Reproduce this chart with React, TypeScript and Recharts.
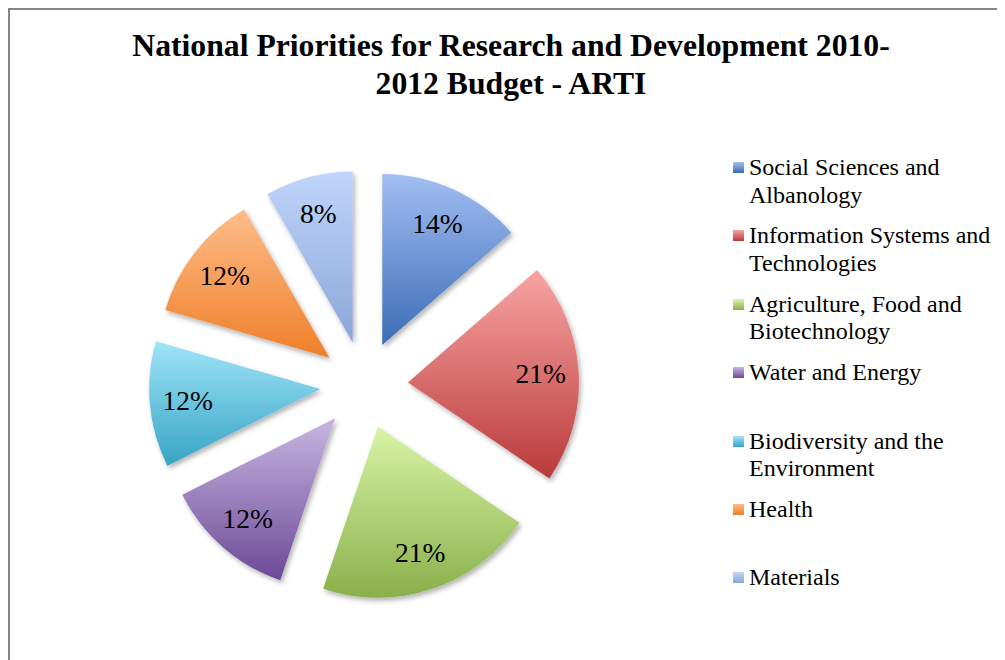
import React from 'react';
import { PieChart, Pie, Cell, Sector, Legend } from 'recharts';

const categories = [
  'Social Sciences and Albanology',
  'Information Systems and Technologies',
  'Agriculture, Food and Biotechnology',
  'Water and Energy',
  'Biodiversity and the Environment',
  'Health',
  'Materials',
];
const shares = [13.6, 20.9, 20.7, 12.4, 11.9, 12.2, 8.3];
const gradientTop = ['#a3bef2', '#f8a4a4', '#d8f4a6', '#c7b6e2', '#a0e4f9', '#fdbc8a', '#c0d5fb'];
const gradientBottom = ['#3a6cb6', '#ba3a3a', '#89b04a', '#6c4996', '#37a4c3', '#ef7f28', '#8aa6d8'];
const titleLines = ['National Priorities for Research and Development 2010-', '2012 Budget - ARTI'];

const data = categories.map((name, i) => ({ name, value: shares[i] }));

const RAD = Math.PI / 180;
const EXPLODE = 44;
const offsetFor = (midAngle: number) => ({
  dx: EXPLODE * Math.cos(-midAngle * RAD),
  dy: EXPLODE * Math.sin(-midAngle * RAD),
});

const ExplodedSector = (props: any) => {
  const { cx, cy, midAngle, innerRadius, outerRadius, startAngle, endAngle, fill } = props;
  const { dx, dy } = offsetFor(midAngle);
  return (
    <Sector
      cx={cx + dx}
      cy={cy + dy}
      innerRadius={innerRadius}
      outerRadius={outerRadius}
      startAngle={startAngle}
      endAngle={endAngle}
      fill={fill}
      stroke="none"
      filter="url(#sliceShadow)"
    />
  );
};

const renderLabel = (props: any) => {
  const { cx, cy, midAngle, outerRadius, percent } = props;
  const { dx, dy } = offsetFor(midAngle);
  const r = outerRadius * 0.778;
  const x = cx + dx + r * Math.cos(-midAngle * RAD);
  const y = cy + dy + r * Math.sin(-midAngle * RAD);
  return (
    <text x={x} y={y + 9} textAnchor="middle" fontFamily='"Liberation Serif", serif' fontSize={27.5} fill="#000">
      {Math.round(percent * 100)}%
    </text>
  );
};

const renderLegend = () => {
  return (
    <div style={{ position: 'relative', width: 280, height: 500 }}>
      {data.map((d, i) => (
        <div key={d.name} style={{ position: 'absolute', left: 0, top: i * 68.4, width: 280 }}>
          <span
            style={{
              position: 'absolute',
              left: 0,
              top: 8,
              width: 11,
              height: 11,
              background: `linear-gradient(${gradientTop[i]}, ${gradientBottom[i]})`,
            }}
          />
          <div
            style={{
              position: 'absolute',
              left: 16,
              top: 0,
              width: 252,
              fontFamily: '"Liberation Serif", serif',
              fontSize: 24,
              lineHeight: '27.5px',
              color: '#000',
              textAlign: 'left',
            }}
          >
            {d.name}
          </div>
        </div>
      ))}
    </div>
  );
};

export default function App() {
  return (
    <div
      style={{
        position: 'relative',
        width: 997,
        height: 652,
        boxSizing: 'border-box',
        borderTop: '2px solid #878787',
        borderLeft: '2px solid #878787',
        overflow: 'hidden',
        background: '#fff',
      }}
    >
      <div
        style={{
          position: 'absolute',
          left: 0,
          top: 17,
          width: 1002,
          textAlign: 'center',
          fontFamily: '"Liberation Serif", serif',
          fontWeight: 700,
          fontSize: 31.7,
          lineHeight: '38px',
          color: '#000',
        }}
      >
        {titleLines[0]}
        <br />
        {titleLines[1]}
      </div>
      <div style={{ position: 'absolute', left: 0, top: 0 }}>
        <PieChart width={995} height={650} margin={{ top: 0, right: 0, bottom: 0, left: 0 }}>
          <defs>
            {categories.map((_, i) => (
              <linearGradient key={i} id={`sliceGrad${i}`} x1="0" y1="0" x2="0" y2="1">
                <stop offset="0%" stopColor={gradientTop[i]} />
                <stop offset="100%" stopColor={gradientBottom[i]} />
              </linearGradient>
            ))}
            <filter id="sliceShadow" x="-20%" y="-20%" width="140%" height="140%">
              <feDropShadow dx="2" dy="3" stdDeviation="2.5" floodColor="#000" floodOpacity="0.3" />
            </filter>
          </defs>
          <Pie
            data={data}
            dataKey="value"
            nameKey="name"
            cx={354}
            cy={375}
            innerRadius={0}
            outerRadius={171}
            startAngle={90}
            endAngle={-270}
            stroke="none"
            isAnimationActive={false}
            labelLine={false}
            label={renderLabel}
            shape={ExplodedSector}
            activeShape={ExplodedSector}
            inactiveShape={ExplodedSector}
          >
            {data.map((d, i) => (
              <Cell key={d.name} fill={`url(#sliceGrad${i})`} />
            ))}
          </Pie>
          <Legend
            layout="vertical"
            align="right"
            verticalAlign="middle"
            content={renderLegend}
            wrapperStyle={{ position: 'absolute', left: 723, top: 144, width: 280, height: 500 }}
          />
        </PieChart>
      </div>
    </div>
  );
}
